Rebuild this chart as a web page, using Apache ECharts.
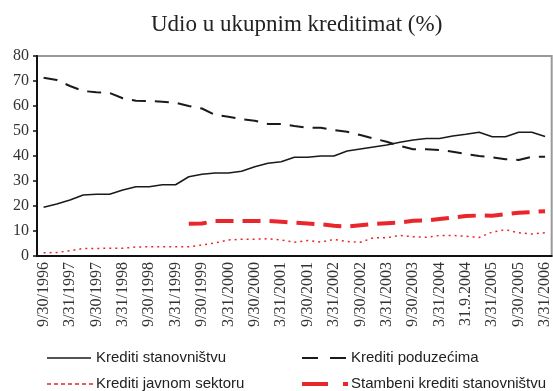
<!DOCTYPE html>
<html>
<head>
<meta charset="utf-8">
<script src="https://cdn.jsdelivr.net/npm/echarts@6/dist/echarts.min.js"></script>
<style>
  html, body { margin: 0; padding: 0; background: #fff; }
  #chart { width: 553px; height: 391px; }
</style>
</head>
<body>
<div id="chart"></div>
<script>
// Quarter-end dates; every other one is shown on the axis.
const quarters = [
  '9/30/1996', '12/31/1996', '3/31/1997', '6/30/1997', '9/30/1997', '12/31/1997',
  '3/31/1998', '6/30/1998', '9/30/1998', '12/31/1998', '3/31/1999', '6/30/1999',
  '9/30/1999', '12/31/1999', '3/31/2000', '6/30/2000', '9/30/2000', '12/31/2000',
  '3/31/2001', '6/30/2001', '9/30/2001', '12/31/2001', '3/31/2002', '6/30/2002',
  '9/30/2002', '12/31/2002', '3/31/2003', '6/30/2003', '9/30/2003', '12/31/2003',
  '3/31/2004', '6/30/2004', '31.9.2004', '12/31/2004', '3/31/2005', '6/30/2005',
  '9/30/2005', '12/31/2005', '3/31/2006'
];

// Share of total loans (%)
const householdLoans = [
  19.5, 20.8, 22.4, 24.4, 24.7, 24.7, 26.4, 27.7, 27.7, 28.5,
  28.5, 31.7, 32.7, 33.2, 33.2, 33.9, 35.7, 37.1, 37.7, 39.5,
  39.5, 40.0, 40.0, 42.0, 42.8, 43.6, 44.4, 45.5, 46.4, 47.0,
  47.0, 48.0, 48.7, 49.5, 47.7, 47.7, 49.5, 49.5, 47.8
];
const corporateLoans = [
  71.3, 70.4, 68.0, 66.0, 65.5, 65.2, 63.1, 62.1, 62.0, 61.7,
  61.3, 60.0, 59.0, 56.4, 55.7, 54.7, 54.1, 52.8, 52.8, 52.0,
  51.3, 51.3, 50.4, 49.7, 48.4, 47.0, 45.7, 44.0, 42.7, 42.7,
  42.4, 41.7, 40.8, 40.0, 39.5, 38.7, 38.4, 39.7, 39.7
];
const publicSectorLoans = [
  1.3, 1.4, 2.1, 3.0, 3.0, 3.1, 3.1, 3.6, 3.7, 3.7,
  3.7, 3.7, 4.4, 5.2, 6.4, 6.7, 6.7, 6.9, 6.4, 5.5,
  6.2, 5.6, 6.6, 5.8, 5.5, 7.3, 7.3, 8.2, 7.7, 7.5,
  8.2, 8.2, 7.9, 7.4, 9.6, 10.5, 9.3, 8.8, 9.3
];
const housingLoans = [
  null, null, null, null, null, null, null, null, null, null,
  null, 12.9, 13.0, 14.0, 14.0, 14.0, 14.0, 14.0, 13.7, 13.3,
  13.0, 12.7, 12.1, 11.8, 12.3, 12.8, 13.1, 13.4, 14.1, 14.2,
  14.8, 15.4, 16.0, 16.2, 16.1, 16.7, 17.3, 17.6, 17.9
];
const yTicks = [0, 10, 20, 30, 40, 50, 60, 70, 80];

const seriesNames = [
  'Krediti stanovništvu',
  'Krediti poduzećima',
  'Krediti javnom sektoru',
  'Stambeni krediti stanovništvu'
];

const serif = '"Liberation Serif", "Times New Roman", serif';
const sans = '"Liberation Sans", Arial, sans-serif';
const black = '#1a1a1a';
const red = '#e8262c';

const lineStyles = [
  { stroke: black, lineWidth: 1.5 },
  { stroke: black, lineWidth: 2, lineDash: [14, 9] },
  { stroke: red, lineWidth: 1.5, lineDash: [2, 4] },
  { stroke: red, lineWidth: 4, lineDash: [18, 9] }
];

// Legend: two columns, two rows, each a line sample followed by its name.
const legendSlots = [
  { x: 47, y: 358, len: 44, dash: null },
  { x: 302, y: 358, len: 46, dash: [16, 12] },
  { x: 47, y: 384, len: 46, dash: [4, 3] },
  { x: 302, y: 384, len: 46, dash: [26, 15] }
];
const legendGraphics = [];
legendSlots.forEach((slot, i) => {
  const st = Object.assign({}, lineStyles[i]);
  st.lineDash = slot.dash;
  legendGraphics.push({
    type: 'line',
    silent: true,
    shape: { x1: slot.x, y1: slot.y, x2: slot.x + slot.len, y2: slot.y },
    style: st
  });
  legendGraphics.push({
    type: 'text',
    silent: true,
    x: slot.x + (i % 2 === 0 ? 49 : 49),
    y: slot.y,
    style: {
      text: seriesNames[i],
      fontFamily: sans,
      fontSize: 15,
      fill: '#222',
      verticalAlign: 'middle'
    }
  });
});

const chart = echarts.init(document.getElementById('chart'), null, { renderer: 'canvas' });

chart.setOption({
  animation: false,
  backgroundColor: '#ffffff',
  title: {
    text: 'Udio u ukupnim kreditimat (%)',
    left: 146,
    top: 8,
    textStyle: { fontFamily: serif, fontSize: 23, fontWeight: 'normal', color: '#222' }
  },
  graphic: legendGraphics,
  grid: {
    left: 37,
    top: 56,
    width: 521,
    height: 200,
    show: true,
    borderColor: '#999',
    borderWidth: 2,
    backgroundColor: 'transparent'
  },
  xAxis: {
    type: 'category',
    data: quarters,
    boundaryGap: true,
    axisLine: { lineStyle: { color: '#111', width: 2 } },
    axisTick: { interval: 1, length: 5, lineStyle: { color: '#111', width: 1.5 } },
    axisLabel: {
      interval: 1,
      rotate: 90,
      margin: 6,
      fontFamily: serif,
      fontSize: 16,
      color: '#333'
    },
    splitLine: { show: false }
  },
  yAxis: {
    type: 'value',
    min: yTicks[0],
    max: yTicks[yTicks.length - 1],
    interval: 10,
    axisLine: { show: true, lineStyle: { color: '#111', width: 2 } },
    axisTick: { show: true, length: 4, lineStyle: { color: '#111', width: 1.5 } },
    axisLabel: { fontFamily: serif, fontSize: 16, color: '#333', margin: 8 },
    splitLine: { show: false }
  },
  series: [
    {
      name: seriesNames[0],
      type: 'line',
      data: householdLoans,
      symbol: 'none',
      lineStyle: { color: black, width: 1.5, type: 'solid' }
    },
    {
      name: seriesNames[1],
      type: 'line',
      data: corporateLoans,
      symbol: 'none',
      lineStyle: { color: black, width: 2, type: [14, 9] }
    },
    {
      name: seriesNames[2],
      type: 'line',
      data: publicSectorLoans,
      symbol: 'none',
      lineStyle: { color: red, width: 1.5, type: [2, 4] }
    },
    {
      name: seriesNames[3],
      type: 'line',
      data: housingLoans,
      symbol: 'none',
      connectNulls: false,
      lineStyle: { color: red, width: 4, type: [18, 9] }
    }
  ]
});
</script>
</body>
</html>
